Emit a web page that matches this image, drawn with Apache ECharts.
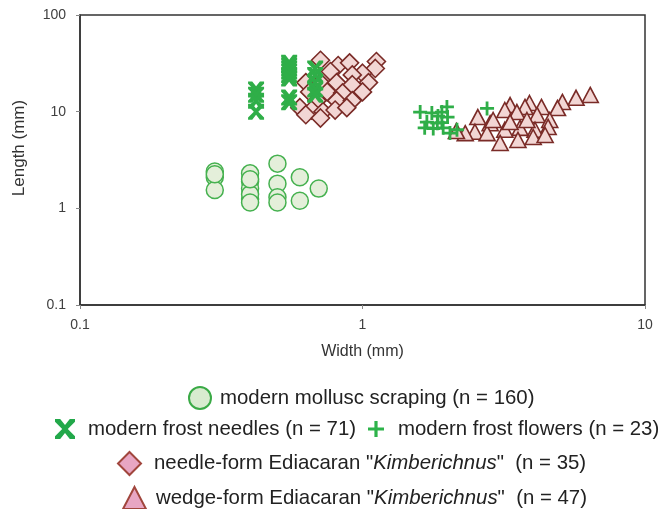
<!DOCTYPE html>
<html>
<head>
<meta charset="utf-8">
<script src="https://cdn.jsdelivr.net/npm/echarts@6/dist/echarts.min.js"></script>
<style>
  html, body { margin: 0; padding: 0; background: #fff; }
  #chart { width: 672px; height: 509px; }
</style>
</head>
<body>
<div id="chart"></div>
<script>
// width (mm), length (mm)
const molluscScraping = [
  [0.3, 2.4], [0.3, 2.1], [0.3, 1.55], [0.3, 2.25],
  [0.4, 2.3], [0.4, 1.9], [0.4, 1.6], [0.4, 1.25], [0.4, 1.4], [0.4, 2.0], [0.4, 1.15],
  [0.5, 2.9], [0.5, 1.8], [0.5, 1.3], [0.5, 1.15],
  [0.6, 2.1], [0.6, 1.2],
  [0.7, 1.6]
]
const frostNeedles = [
  [0.42, 17], [0.42, 15], [0.42, 10], [0.42, 13],
  [0.55, 32], [0.55, 30], [0.55, 28], [0.55, 26], [0.55, 24], [0.55, 22], [0.55, 14], [0.55, 12.5],
  [0.68, 28], [0.68, 24], [0.68, 20], [0.68, 17], [0.68, 15]
]
const frostFlowers = [
  [1.6, 9.9], [1.76, 9.7], [1.91, 9.9], [1.99, 11.2], [2.0, 8.8], [1.69, 7.8],
  [1.84, 7.6], [1.91, 7.7], [1.66, 6.8], [1.78, 6.7], [1.93, 6.8], [2.04, 6.0],
  [2.16, 6.5], [2.76, 10.8], [1.85, 9.0]
]
const needleForm = [
  [0.71, 34], [0.82, 30], [0.90, 32], [1.12, 33], [1.11, 28], [1.0, 25], [0.77, 26], [0.92, 24],
  [0.63, 20], [0.71, 20], [0.81, 20], [0.92, 19], [1.05, 20], [1.0, 16],
  [0.65, 16], [0.75, 16], [0.85, 15.6], [0.69, 13], [0.81, 13], [0.92, 13],
  [0.60, 11], [0.66, 10.4], [0.725, 10], [0.80, 10.4], [0.88, 11], [0.63, 9.3], [0.71, 8.6]
]
const wedgeForm = [
  [6.4, 14.9], [5.7, 13.9], [5.1, 12.6], [4.9, 10.9], [4.3, 11.2], [3.9, 12.3], [3.76, 11.2],
  [3.33, 11.7], [3.19, 10.4], [3.52, 9.9], [4.15, 9.25], [4.6, 8.2], [4.54, 6.95], [4.08, 6.5],
  [3.61, 6.8], [3.19, 6.5], [2.83, 7.6], [2.56, 8.8], [2.5, 6.2], [2.31, 6.0], [2.76, 6.0],
  [3.07, 4.75], [3.55, 5.1], [4.02, 5.47], [4.43, 5.74], [2.9, 8.2], [3.33, 7.8], [3.82, 8.2],
  [2.15, 6.3]
]
const seriesNames = [
  'modern mollusc scraping (n = 160)',
  'modern frost needles (n = 71)',
  'modern frost flowers (n = 23)',
  'needle-form Ediacaran "{i|Kimberichnus}"  (n = 35)',
  'wedge-form Ediacaran "{i|Kimberichnus}"  (n = 47)'
]

const FONT = '"Liberation Sans", Arial, sans-serif'
const LEGEND_SIZE = 20.4
const green = '#2fae48'
const brown = '#7a2b27'
const crossPath = 'path://M0,0 L2.6,0 L5,3 L7.4,0 L10,0 L10,1.4 L6.4,5 L10,8.6 L10,10 L7.4,10 L5,7 L2.6,10 L0,10 L0,8.6 L3.6,5 L0,1.4 Z'
const plusPath = 'path://M4,0 H6 V4 H10 V6 H6 V10 H4 V6 H0 V4 H4 Z'

const chart = echarts.init(document.getElementById('chart'))

const oneLegend = (name, left, top, w, h, icon, style, pad) => ({
  left: left,
  top: top,
  padding: 0,
  itemWidth: w,
  itemHeight: h,
  selectedMode: false,
  symbolKeepAspect: true,
  textStyle: {
    fontFamily: FONT,
    fontSize: LEGEND_SIZE,
    color: '#222',
    padding: [0, 0, 0, pad],
    rich: { i: { fontFamily: FONT, fontSize: LEGEND_SIZE, fontStyle: 'italic', color: '#222' } }
  },
  data: [{ name: name, icon: icon, itemStyle: style }]
})

const option = {
  animation: false,
  grid: {
    left: 80, right: 27, top: 15, bottom: 204,
    show: true, borderColor: '#333', borderWidth: 1.5
  },
  xAxis: {
    type: 'log', logBase: 10, min: 0.1, max: 10,
    name: 'Width (mm)', nameLocation: 'middle', nameGap: 39,
    nameTextStyle: { fontFamily: FONT, fontSize: 16, color: '#333' },
    axisLine: { lineStyle: { color: '#333', width: 1.5 } },
    axisTick: { length: 4, lineStyle: { color: '#888' } },
    axisLabel: { fontFamily: FONT, fontSize: 14, color: '#404040', margin: 13 },
    splitLine: { show: false }
  },
  yAxis: {
    type: 'log', logBase: 10, min: 0.1, max: 100,
    name: 'Length (mm)', nameLocation: 'middle', nameGap: 52,
    nameTextStyle: { fontFamily: FONT, fontSize: 17, color: '#333', padding: [0, 0, 0, 24] },
    axisLine: { lineStyle: { color: '#333', width: 1.5 } },
    axisTick: { length: 4, lineStyle: { color: '#888' } },
    axisLabel: { fontFamily: FONT, fontSize: 14, color: '#404040', margin: 14 },
    splitLine: { show: false }
  },
  legend: [
    oneLegend(seriesNames[0], 188, 386, 22, 22, 'circle',
      { color: '#d8ebcf', borderColor: '#3aaa46', borderWidth: 2 }, 4),
    oneLegend(seriesNames[1], 55, 419, 20, 20, crossPath, { color: '#22a84a' }, 8),
    oneLegend(seriesNames[2], 368, 419, 16, 20, plusPath, { color: '#2db34a' }, 9),
    oneLegend(seriesNames[3], 117, 451, 23, 23, 'diamond',
      { color: '#e8a6c3', borderColor: '#a1463d', borderWidth: 2 }, 8),
    oneLegend(seriesNames[4], 122, 486, 23, 22, 'triangle',
      { color: '#e8a6c3', borderColor: '#a1463d', borderWidth: 2 }, 5)
  ],
  series: [
    {
      name: seriesNames[0], type: 'scatter', data: molluscScraping,
      symbol: 'circle', symbolSize: 17,
      itemStyle: { color: '#e4efda', borderColor: '#45b14f', borderWidth: 1.5, opacity: 1 }
    },
    {
      name: seriesNames[3], type: 'scatter', data: needleForm,
      symbol: 'diamond', symbolSize: 18,
      itemStyle: { color: '#f2d6d4', borderColor: brown, borderWidth: 1.6, opacity: 1 }
    },
    {
      name: seriesNames[4], type: 'scatter', data: wedgeForm,
      symbol: 'triangle', symbolSize: [16, 15],
      itemStyle: { color: '#f2d6d4', borderColor: brown, borderWidth: 1.6, opacity: 1 }
    },
    {
      name: seriesNames[1], type: 'scatter', data: frostNeedles,
      symbol: crossPath, symbolSize: 16,
      itemStyle: { color: green, opacity: 1 }
    },
    {
      name: seriesNames[2], type: 'scatter', data: frostFlowers,
      symbol: plusPath, symbolSize: 14,
      itemStyle: { color: green, opacity: 1 }
    }
  ]
}

chart.setOption(option)
</script>
</body>
</html>
